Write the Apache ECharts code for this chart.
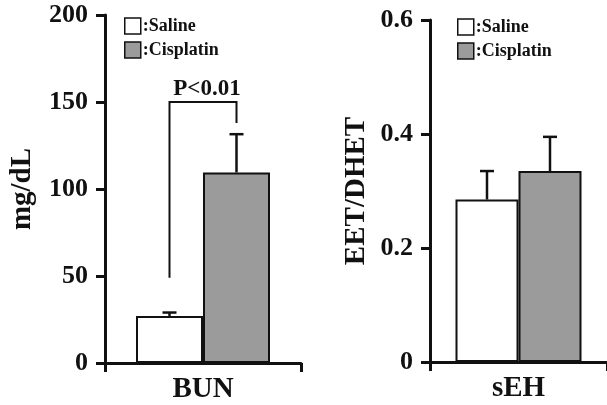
<!DOCTYPE html>
<html><head><meta charset="utf-8">
<script src="https://cdn.jsdelivr.net/npm/echarts@6/dist/echarts.min.js"></script>
<style>html,body{margin:0;padding:0;background:#fff}#c{width:607px;height:405px}</style>
</head><body><div id="c"></div>
<script>
// ---- data ----
const groups = ['Saline', 'Cisplatin'];
const bunCategory = ['BUN'];
const bunMean = [27, 109.5];
const bunSem = [2, 22];
const sehCategory = ['sEH'];
const sehMean = [0.285, 0.335];
const sehSem = [0.05, 0.06];
const bunAxis = { min: 0, max: 200, interval: 50 };
const sehAxis = { min: 0, max: 0.6, interval: 0.2 };
const bracketValues = [49, 150, 138]; // saline-side start, top, cisplatin-side end
const bracketLabel = 'P<0.01';

// ---- style ----
const FONT = "'Liberation Serif','Times New Roman',serif";
const INK = '#111';
const GRAY = '#9b9b9b';
const colors = ['#ffffff', GRAY];
const barW = [67, 63];

const chart = echarts.init(document.getElementById('c'), null, { renderer: 'canvas' });

function yAxisCfg(gi, ax, name, gap) {
  return {
    type: 'value', gridIndex: gi, min: ax.min, max: ax.max, interval: ax.interval,
    name: name, nameLocation: 'middle', nameGap: gap, nameRotate: 90,
    nameTextStyle: { fontFamily: FONT, fontWeight: 'bold', fontSize: 29, color: INK },
    axisLine: { show: true, lineStyle: { color: INK, width: 3 } },
    axisTick: { show: true, length: 9, lineStyle: { color: INK, width: 3 } },
    axisLabel: { fontFamily: FONT, fontWeight: 'bold', fontSize: 26, color: INK, margin: 17 },
    splitLine: { show: false }
  };
}
function xAxisCfg(gi, cats) {
  return {
    type: 'category', gridIndex: gi, data: cats, boundaryGap: true,
    axisLine: { show: true, lineStyle: { color: INK, width: 3 } },
    axisTick: { show: true, length: 9, lineStyle: { color: INK, width: 3 } },
    axisLabel: { fontFamily: FONT, fontWeight: 'bold', fontSize: 29, color: INK, margin: 12 }
  };
}
function barSeries(gi, means, bw) {
  return groups.map((g, i) => ({
    name: g, type: 'bar', xAxisIndex: gi, yAxisIndex: gi,
    barWidth: bw, barGap: 0,
    data: [means[i]],
    itemStyle: { color: colors[i], borderColor: INK, borderWidth: 2 },
    z: 3
  }));
}
function errSeries(gi, means, sems, bw) {
  return {
    type: 'custom', xAxisIndex: gi, yAxisIndex: gi, z: 2,
    data: means.map((m, i) => [0, m, sems[i]]),
    renderItem: function (params, api) {
      const idx = params.dataIndex;
      const c = api.coord([api.value(0), api.value(1)]);
      const t = api.coord([api.value(0), api.value(1) + api.value(2)]);
      const x = c[0] + (idx === 0 ? -bw / 2 : bw / 2);
      const cap = 7;
      const st = { stroke: INK, lineWidth: 2.5 };
      return { type: 'group', children: [
        { type: 'line', shape: { x1: x, y1: c[1], x2: x, y2: t[1] }, style: st },
        { type: 'line', shape: { x1: x - cap, y1: t[1], x2: x + cap, y2: t[1] }, style: st }
      ]};
    }
  };
}
const bracketSeries = {
  type: 'custom', xAxisIndex: 0, yAxisIndex: 0, z: 4,
  data: [[0, bracketValues[0], bracketValues[1], bracketValues[2]]],
  renderItem: function (params, api) {
    const bw = barW[0];
    const a = api.coord([api.value(0), api.value(1)]);
    const top = api.coord([api.value(0), api.value(2)]);
    const b = api.coord([api.value(0), api.value(3)]);
    const xl = a[0] - bw / 2, xr = a[0] + bw / 2;
    const st = { stroke: INK, lineWidth: 2 };
    return { type: 'group', children: [
      { type: 'polyline', shape: { points: [[xl, a[1]], [xl, top[1]], [xr, top[1]], [xr, b[1]]] }, style: Object.assign({ fill: null }, st) },
      { type: 'text', style: { text: bracketLabel, x: (xl + xr) / 2 + 4, y: top[1] - 1, align: 'center', verticalAlign: 'bottom',
        font: "bold 23px " + FONT, fill: INK } }
    ]};
  }
};
function legendCfg(left, top) {
  return {
    data: groups, orient: 'vertical', left: left, top: top, padding: 0,
    itemWidth: 16, itemHeight: 16, itemGap: 6, icon: 'rect',
    formatter: ':{name}',
    itemStyle: { borderColor: INK, borderWidth: 1.5 },
    textStyle: { fontFamily: FONT, fontWeight: 'bold', fontSize: 18, color: INK, padding: [0, 0, 0, -3] },
    selectedMode: false
  };
}

chart.setOption({
  animation: false,
  backgroundColor: '#fff',
  grid: [
    { left: 105, top: 15, width: 196, height: 348 },
    { left: 430, top: 20, width: 185, height: 342 }
  ],
  legend: [legendCfg(124, 17), legendCfg(457, 18)],
  xAxis: [xAxisCfg(0, bunCategory), xAxisCfg(1, sehCategory)],
  yAxis: [yAxisCfg(0, bunAxis, 'mg/dL', 68), yAxisCfg(1, sehAxis, 'EET/DHET', 59)],
  series: [].concat(
    barSeries(0, bunMean, barW[0]),
    barSeries(1, sehMean, barW[1]),
    [errSeries(0, bunMean, bunSem, barW[0]), errSeries(1, sehMean, sehSem, barW[1]), bracketSeries]
  )
});
</script></body></html>
